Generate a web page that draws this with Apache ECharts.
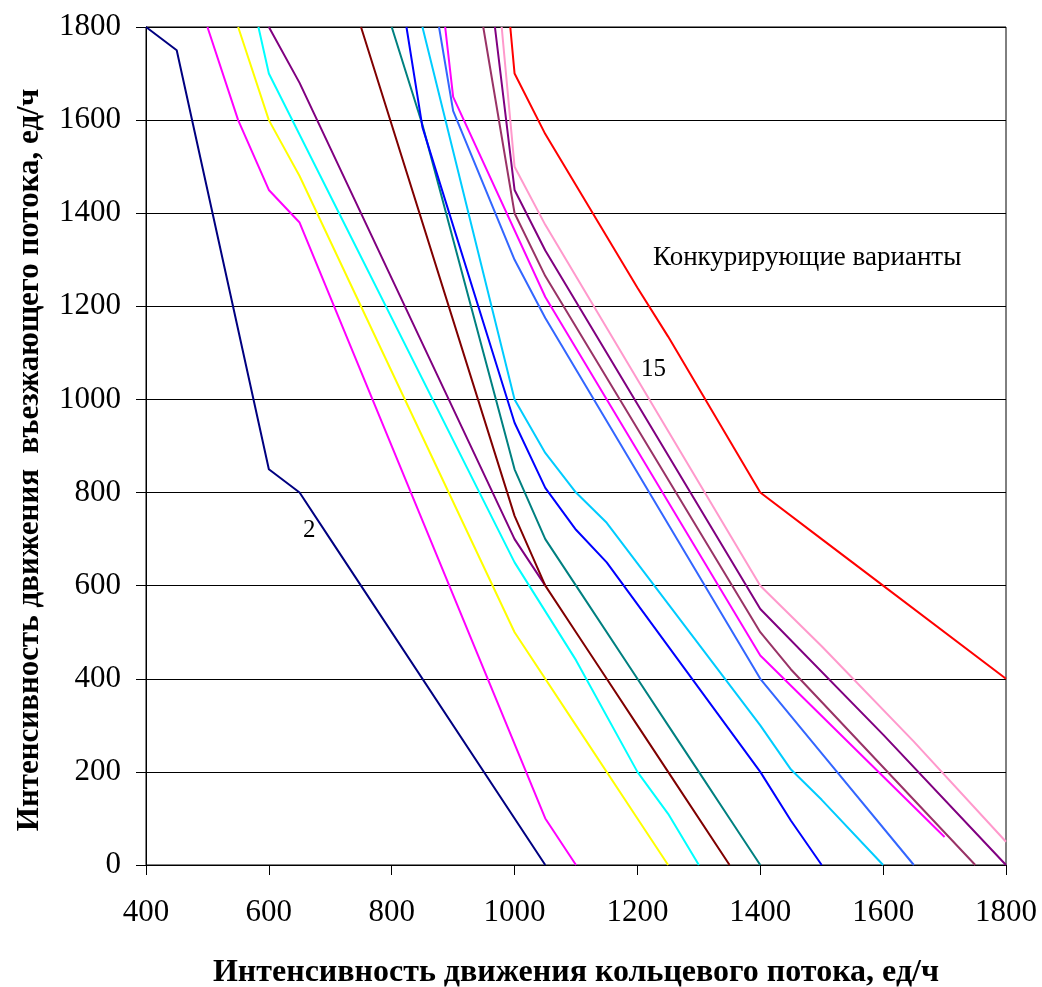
<!DOCTYPE html>
<html>
<head>
<meta charset="utf-8">
<script src="https://cdn.jsdelivr.net/npm/echarts@6/dist/echarts.min.js"></script>
<style>
html,body{margin:0;padding:0;background:#fff;}
#chart{width:1042px;height:987px;}
</style>
</head>
<body>
<div id="chart"></div>
<script>
// x: circulating flow (ед/ч), y: entering flow (ед/ч)
const xTicks = [400, 600, 800, 1000, 1200, 1400, 1600, 1800];
const yTicks = [0, 200, 400, 600, 800, 1000, 1200, 1400, 1600, 1800];

const curveNavy    = [[400,1800],[450,1750],[600,850],[650,800],[700,700],[1050,0]];
const curveMagenta = [[500,1800],[550,1600],[600,1450],[650,1380],[1050,100],[1100,0]];
const curveYellow  = [[550,1800],[600,1600],[650,1480],[1000,500],[1100,300],[1200,100],[1250,0]];
const curveCyan    = [[583,1800],[600,1700],[1000,650],[1100,440],[1200,200],[1250,110],[1300,0]];
const curvePurple  = [[600,1800],[650,1680],[800,1260],[1000,700],[1050,600]];
const curveMaroon  = [[750,1800],[1000,750],[1050,600],[1100,500],[1150,400],[1200,300],[1250,200],[1350,0]];
const curveTeal    = [[800,1800],[850,1590],[1000,850],[1050,700],[1100,600],[1200,400],[1250,300],[1300,200],[1350,100],[1400,0]];
const curveBlue    = [[824,1800],[850,1585],[1000,950],[1050,810],[1100,720],[1150,650],[1400,200],[1450,95],[1500,0]];
const curveSky     = [[850,1800],[1000,1000],[1050,885],[1100,800],[1150,735],[1400,300],[1450,205],[1500,140],[1600,0]];
const curveRoyal   = [[877,1800],[900,1620],[1000,1300],[1050,1175],[1400,400],[1500,240],[1650,0]];
const curveMagenta2= [[887,1800],[900,1650],[1050,1220],[1400,450],[1700,60]];
const curvePlum    = [[949,1800],[1000,1400],[1050,1265],[1400,500],[1450,420],[1500,350],[1750,0]];
const curvePurple2 = [[968,1800],[1000,1450],[1050,1320],[1400,550],[1600,280],[1800,0]];
const curvePink    = [[979,1800],[1000,1500],[1050,1375],[1400,600],[1500,470],[1650,265],[1800,50]];
const curveRed     = [[993,1800],[1000,1700],[1050,1570],[1200,1240],[1250,1135],[1400,800],[1500,700],[1550,650],[1800,400]];

const curves = [
  {data: curveNavy,     color: '#000080'},
  {data: curveMagenta,  color: '#FF00FF'},
  {data: curveYellow,   color: '#FFFF00'},
  {data: curveCyan,     color: '#00FFFF'},
  {data: curvePurple,   color: '#800080'},
  {data: curveMaroon,   color: '#800000'},
  {data: curveTeal,     color: '#008080'},
  {data: curveBlue,     color: '#0000FF'},
  {data: curveSky,      color: '#00CCFF'},
  {data: curveRoyal,    color: '#3366FF'},
  {data: curveMagenta2, color: '#FF00FF'},
  {data: curvePlum,     color: '#993366'},
  {data: curvePurple2,  color: '#800080'},
  {data: curvePink,     color: '#FF99CC'},
  {data: curveRed,      color: '#FF0000'}
];

const xTitle = 'Интенсивность движения кольцевого потока, ед/ч';
const yTitle = 'Интенсивность движения  въезжающего потока, ед/ч';
const noteText = 'Конкурирующие варианты';
const label2 = '2';
const label15 = '15';

const FONT = '"Liberation Serif", "Times New Roman", serif';
const chart = echarts.init(document.getElementById('chart'), null, {renderer: 'canvas'});

chart.setOption({
  animation: false,
  backgroundColor: '#ffffff',
  grid: {left: 146, right: 36, top: 27, bottom: 122, show: true, borderColor: '#000', borderWidth: 1,
         backgroundColor: 'transparent', containLabel: false, outerBoundsMode: 'none'},
  xAxis: {
    type: 'value', min: xTicks[0], max: xTicks[xTicks.length-1], interval: 200,
    axisLine: {show: true, lineStyle: {color: '#000', width: 1}},
    axisTick: {show: true, inside: false, length: 10, lineStyle: {color: '#000'}},
    axisLabel: {color: '#000', fontFamily: FONT, fontSize: 31, margin: 32, formatter: v => String(v)},
    splitLine: {show: false},
    name: xTitle, nameLocation: 'middle', nameGap: 92,
    nameTextStyle: {color: '#000', fontFamily: FONT, fontSize: 32, fontWeight: 'bold'}
  },
  yAxis: {
    type: 'value', min: yTicks[0], max: yTicks[yTicks.length-1], interval: 200,
    axisLine: {show: true, lineStyle: {color: '#000', width: 1}},
    axisTick: {show: true, inside: false, length: 10, lineStyle: {color: '#000'}},
    axisLabel: {color: '#000', fontFamily: FONT, fontSize: 31, margin: 25, formatter: v => String(v)},
    splitLine: {show: true, lineStyle: {color: '#000', width: 1}},
    name: yTitle, nameLocation: 'middle', nameGap: 101, nameRotate: 90,
    nameTextStyle: {color: '#000', fontFamily: FONT, fontSize: 31, fontWeight: 'bold', padding: [0, 28, 0, 0]}
  },
  series: curves.map(c => ({
    type: 'line', data: c.data, showSymbol: false, symbol: 'none',
    lineStyle: {color: c.color, width: 2}, itemStyle: {color: c.color},
    clip: true, z: 3
  })),
  graphic: [
    {type: 'text', left: 653, top: 244, z: 10, style: {text: noteText, fill: '#000', font: '27px ' + FONT}},
    {type: 'text', left: 641, top: 357, z: 10, style: {text: label15, fill: '#000', font: '25px ' + FONT}},
    {type: 'text', left: 303, top: 518, z: 10, style: {text: label2, fill: '#000', font: '25px ' + FONT}}
  ]
});
</script>
</body>
</html>
